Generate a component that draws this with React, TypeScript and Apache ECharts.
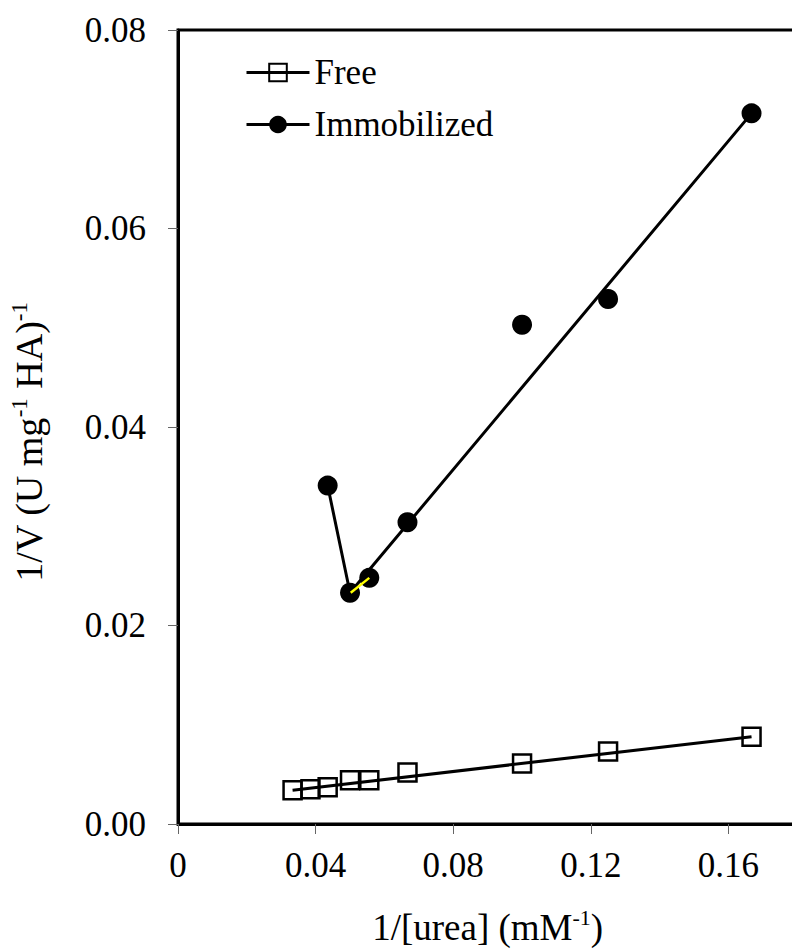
import React, { useEffect, useRef } from "react";
import * as echarts from "echarts";

// ---- data ----
const freeX = [0.0333, 0.0385, 0.0435, 0.05, 0.0556, 0.0667, 0.1, 0.125, 0.1667];
const freeY = [0.0034, 0.0035, 0.0037, 0.0044, 0.0044, 0.0052, 0.0061, 0.0073, 0.0088];
const immX = [0.0435, 0.05, 0.0556, 0.0667, 0.1, 0.125, 0.1667];
const immY = [0.0341, 0.0233, 0.0248, 0.0304, 0.0503, 0.0529, 0.0716];
// drawn lines (fits)
const freeFitX = [0.0333, 0.1667];
const freeFitY = [0.0034, 0.0088];
const immFitX = [0.0435, 0.05, 0.1667];
const immFitY = [0.0341, 0.0233, 0.0716];
const yellowX = [0.0502, 0.0556];
const yellowY = [0.0233, 0.0248];

const xTicks = [0, 0.04, 0.08, 0.12, 0.16];
const yTicks = [0, 0.02, 0.04, 0.06, 0.08];

const FONT = '"Liberation Serif", "Times New Roman", serif';

const zip = (xs: number[], ys: number[]) => xs.map((x, i) => [x, ys[i]]);

export default function App() {
  const ref = useRef<HTMLDivElement>(null);
  useEffect(() => {
    if (!ref.current) return;
    const chart = echarts.init(ref.current, null, { renderer: "svg" });
    const option: any = {
      animation: false,
      backgroundColor: "#fff",
      grid: {
        left: 178,
        top: 30,
        right: -5.3,
        bottom: 128,
        containLabel: false,
        outerBoundsMode: "none",
        show: true,
        borderColor: "#000",
        borderWidth: 3,
        backgroundColor: "transparent",
      },
      legend: {
        show: true,
        orient: "vertical",
        left: 245,
        top: 55,
        padding: 0,
        itemWidth: 63,
        itemHeight: 22,
        itemGap: 17,
        data: ["Free", "Immobilized"],
        textStyle: { fontFamily: FONT, fontSize: 35, color: "#000", lineHeight: 34 },
        lineStyle: { color: "#000", width: 3, opacity: 1 },
      },
      xAxis: {
        type: "value",
        min: xTicks[0],
        max: 0.18,
        interval: xTicks[1] - xTicks[0],
        name: "{n|1/[urea] (mM}{sup|-1}{n|)}",
        nameLocation: "middle",
        nameGap: 82,
        nameTextStyle: {
          fontFamily: FONT,
          fontSize: 37,
          color: "#000",
          rich: {
            n: { fontFamily: FONT, fontSize: 37, color: "#000", lineHeight: 40, verticalAlign: "bottom" },
            sup: { fontFamily: FONT, fontSize: 22, color: "#000", lineHeight: 40, verticalAlign: "top" },
          },
        },
        axisLine: { show: true, onZero: false, lineStyle: { color: "#000", width: 3 } },
        axisTick: { show: true, inside: false, length: 10, lineStyle: { color: "#666", width: 1 } },
        axisLabel: {
          show: true,
          margin: 24,
          fontFamily: FONT,
          fontSize: 35,
          color: "#000",
          showMaxLabel: false,
          formatter: (v: number) => (v === 0 ? "0" : v.toFixed(2)),
        },
        splitLine: { show: false },
      },
      yAxis: {
        type: "value",
        min: yTicks[0],
        max: yTicks[yTicks.length - 1],
        interval: yTicks[1] - yTicks[0],
        name: "{n|1/V (U mg}{sup|-1}{n| HA)}{sup|-1}",
        nameLocation: "middle",
        nameGap: 130,
        nameTextStyle: {
          fontFamily: FONT,
          fontSize: 38,
          color: "#000",
          padding: [0, 30, 0, 0],
          rich: {
            n: { fontFamily: FONT, fontSize: 38, color: "#000", lineHeight: 40, verticalAlign: "bottom" },
            sup: { fontFamily: FONT, fontSize: 23, color: "#000", lineHeight: 40, verticalAlign: "top" },
          },
        },
        axisLine: { show: true, onZero: false, lineStyle: { color: "#000", width: 3 } },
        axisTick: { show: true, inside: false, length: 10, lineStyle: { color: "#666", width: 1 } },
        axisLabel: {
          show: true,
          margin: 32,
          fontFamily: FONT,
          fontSize: 35,
          color: "#000",
          formatter: (v: number) => v.toFixed(2),
        },
        splitLine: { show: false },
      },
      series: [
        {
          name: "Free fit",
          type: "line",
          data: zip(freeFitX, freeFitY),
          showSymbol: false,
          symbol: "none",
          lineStyle: { color: "#000", width: 3 },
          z: 2,
        },
        {
          name: "Immobilized fit",
          type: "line",
          data: zip(immFitX, immFitY),
          showSymbol: false,
          symbol: "none",
          lineStyle: { color: "#000", width: 3 },
          z: 2,
        },
        {
          name: "Free",
          type: "line",
          data: zip(freeX, freeY),
          symbol: "rect",
          symbolSize: 18,
          showSymbol: true,
          itemStyle: { color: "rgba(0,0,0,0)", borderColor: "#000", borderWidth: 2.5 },
          lineStyle: { width: 0, opacity: 0 },
          z: 3,
        },
        {
          name: "Immobilized",
          type: "line",
          data: zip(immX, immY),
          symbol: "circle",
          symbolSize: 20,
          showSymbol: true,
          itemStyle: { color: "#000" },
          lineStyle: { width: 0, opacity: 0 },
          z: 3,
        },
        {
          name: "yellow",
          type: "line",
          data: zip(yellowX, yellowY),
          symbol: "none",
          showSymbol: false,
          lineStyle: { color: "#ffff00", width: 2.5 },
          z: 5,
        },
      ],
    };
    chart.setOption(option);
    return () => chart.dispose();
  }, []);
  return (
    <div
      ref={ref}
      style={{ position: "fixed", left: 0, top: 0, width: 792, height: 952, overflow: "hidden" }}
    />
  );
}
